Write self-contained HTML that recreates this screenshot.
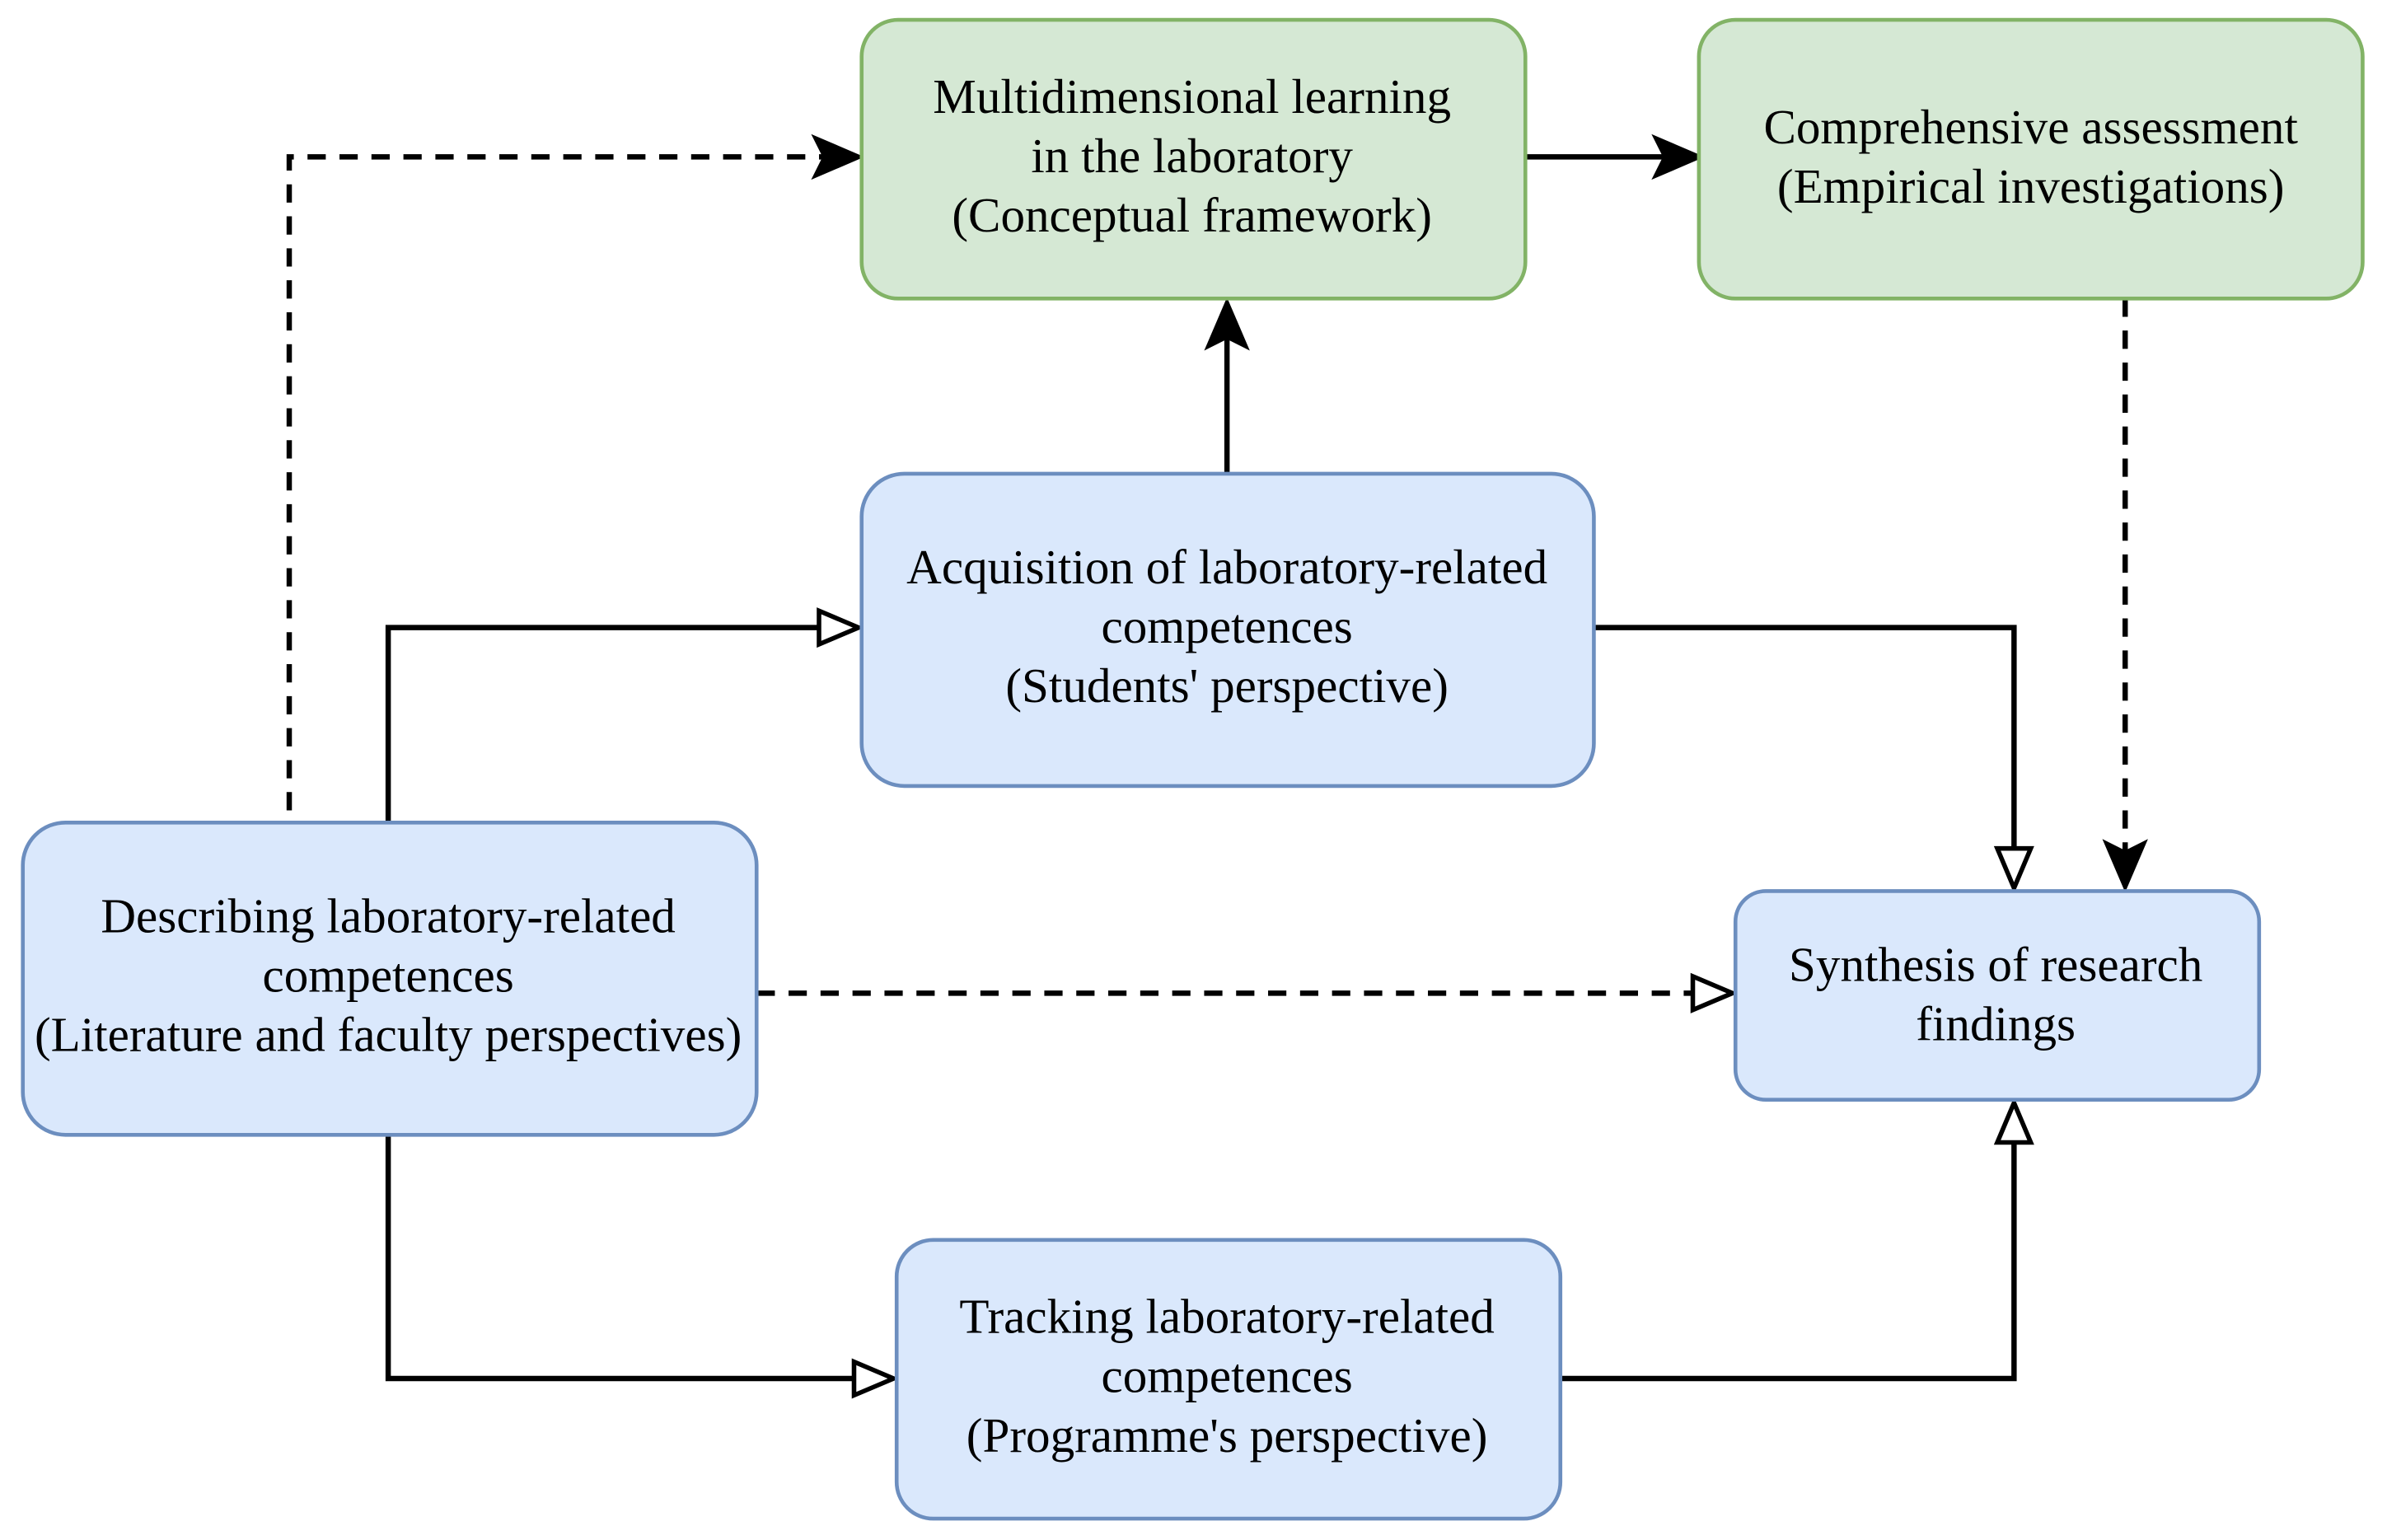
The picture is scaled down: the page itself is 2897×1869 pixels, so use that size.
<!DOCTYPE html>
<html><head><style>html,body{margin:0;padding:0;background:#fff}svg{display:block}</style></head>
<body>
<svg width="2897" height="1869" viewBox="0 0 1568 1011" preserveAspectRatio="none" xmlns="http://www.w3.org/2000/svg">
<g fill="none" stroke="#000" stroke-width="3.5">
<path d="M190 532 V103 H545" stroke-dasharray="12 9"/>
<path d="M1002 103 H1098"/>
<path d="M806 311 V218"/>
<path d="M255 540 V412 H540"/>
<path d="M1047 412 H1323 V560"/>
<path d="M1396 196 V562" stroke-dasharray="12 9"/>
<path d="M497 652 H1113" stroke-dasharray="12 9"/>
<path d="M255 745 V905 H563"/>
<path d="M1025 905 H1323 V748"/>
</g>
<g stroke="#000" stroke-width="3" stroke-linejoin="miter">
<path d="M564 103 L536 91 L542 103 L536 115 Z" fill="#000"/>
<path d="M1116 103 L1088 91 L1094 103 L1088 115 Z" fill="#000"/>
<path d="M806 199 L794 227 L806 221 L818 227 Z" fill="#000"/>
<path d="M1396 582 L1384 554 L1396 560 L1408 554 Z" fill="#000"/>
<path d="M564 412 L538 401 L538 423 Z" fill="#fff"/>
<path d="M1323 583 L1312 557 L1334 557 Z" fill="#fff"/>
<path d="M1138 652 L1112 641 L1112 663 Z" fill="#fff"/>
<path d="M587 905 L561 894 L561 916 Z" fill="#fff"/>
<path d="M1323 724 L1312 750 L1334 750 Z" fill="#fff"/>
</g>
<g stroke-width="2.5">
<rect x="566" y="13" width="436" height="183" rx="24" fill="#d5e8d4" stroke="#82b366"/>
<rect x="1116" y="13" width="436" height="183" rx="24" fill="#d5e8d4" stroke="#82b366"/>
<rect x="566" y="311" width="481" height="205" rx="28" fill="#dae8fc" stroke="#6c8ebf"/>
<rect x="15" y="540" width="482" height="205" rx="28" fill="#dae8fc" stroke="#6c8ebf"/>
<rect x="1140" y="585" width="344" height="137" rx="20" fill="#dae8fc" stroke="#6c8ebf"/>
<rect x="589" y="814" width="436" height="183" rx="24" fill="#dae8fc" stroke="#6c8ebf"/>
</g>
<g font-family="Liberation Serif, serif" font-size="32" text-anchor="middle" fill="#000">
<text x="783" y="74">Multidimensional learning</text>
<text x="783" y="113">in the laboratory</text>
<text x="783" y="152">(Conceptual framework)</text>
<text x="1334" y="94">Comprehensive assessment</text>
<text x="1334" y="133">(Empirical investigations)</text>
<text x="806" y="383">Acquisition of laboratory-related</text>
<text x="806" y="422">competences</text>
<text x="806" y="461">(Students' perspective)</text>
<text x="255" y="612">Describing laboratory-related</text>
<text x="255" y="651">competences</text>
<text x="255" y="690">(Literature and faculty perspectives)</text>
<text x="1311" y="644">Synthesis of research</text>
<text x="1311" y="683">findings</text>
<text x="806" y="875">Tracking laboratory-related</text>
<text x="806" y="914">competences</text>
<text x="806" y="953">(Programme's perspective)</text>
</g>
</svg>
</body></html>
